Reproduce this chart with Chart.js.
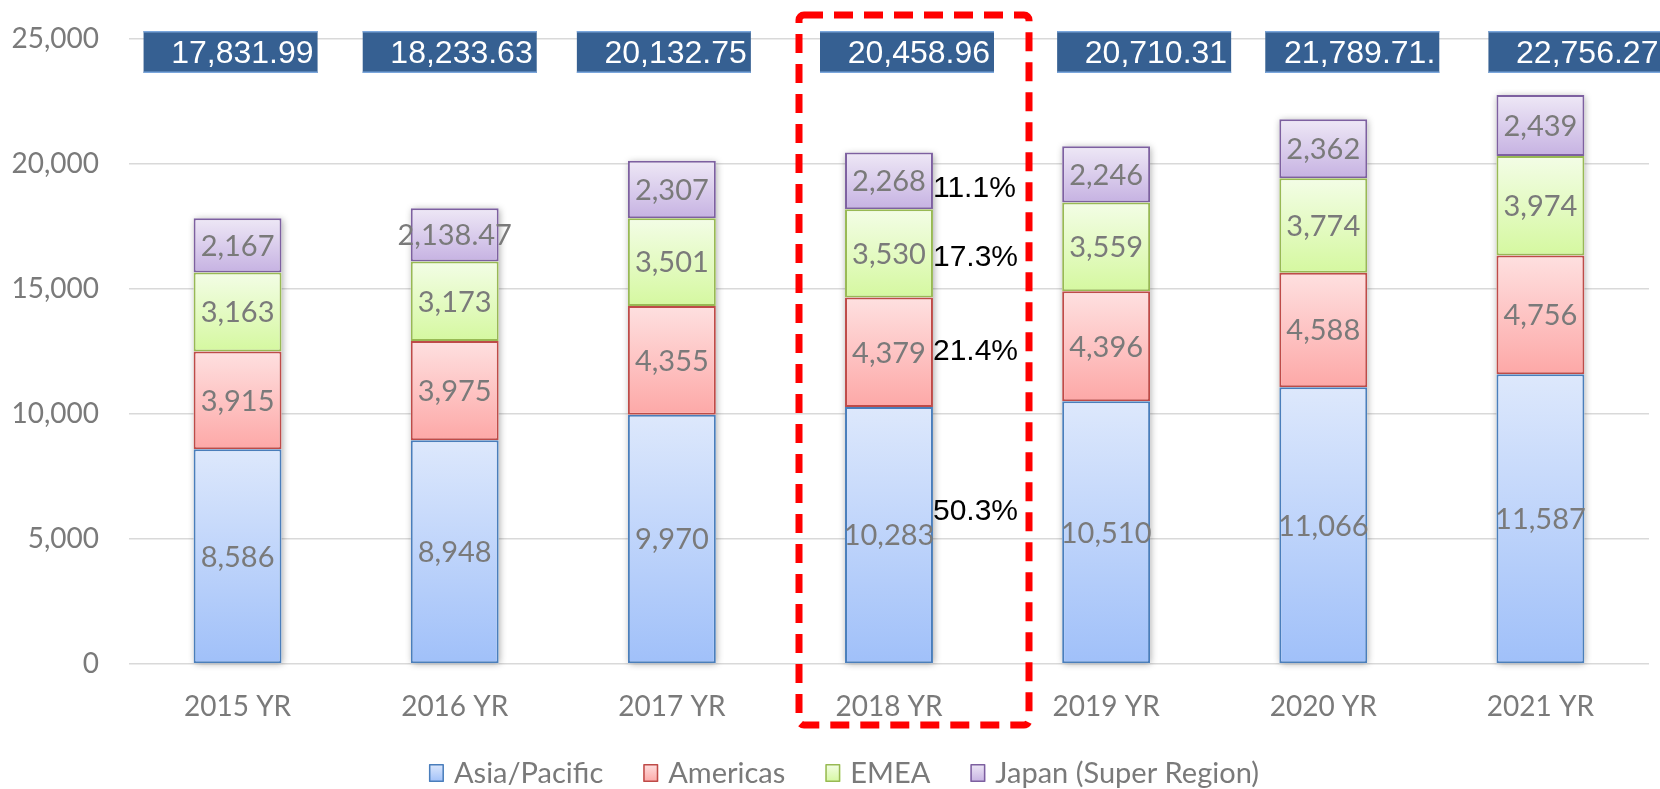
<!DOCTYPE html>
<html>
<head>
<meta charset="utf-8">
<script src="https://cdn.jsdelivr.net/npm/chart.js@4/dist/chart.umd.min.js"></script>
<style>
  html, body { margin: 0; padding: 0; background: #fff; overflow: hidden; }
  #wrap { width: 1660px; height: 789px; position: relative; }
</style>
</head>
<body>
<div id="wrap"><canvas id="chart"></canvas></div>
<script>
const years = ['2015 YR', '2016 YR', '2017 YR', '2018 YR', '2019 YR', '2020 YR', '2021 YR'];
const asiaPacific = [8586, 8948, 9970, 10283, 10510, 11066, 11587];
const americas = [3915, 3975, 4355, 4379, 4396, 4588, 4756];
const emea = [3163, 3173, 3501, 3530, 3559, 3774, 3974];
const japan = [2167, 2138.47, 2307, 2268, 2246, 2362, 2439];
const totals = ['17,831.99', '18,233.63', '20,132.75', '20,458.96', '20,710.31', '21,789.71.', '22,756.27'];
const share2018 = ['50.3%', '21.4%', '17.3%', '11.1%'];
const yTicks = [0, 5000, 10000, 15000, 20000, 25000];

// layout tweaks (pixels)
const totalNudge = [-7, -5, -8, 18, 38, 29, 35];
const shareNudge = [-23, 0, 4, 8];
const GRAY = '#7a7a7a';
const LABEL_FONT = 'Lato, "Open Sans", sans-serif';

function fill(top, bottom) {
  return function (c) {
    const chart = c.chart;
    if (c.type !== 'data' || !chart.chartArea) return bottom;
    const y = chart.scales.y;
    let base = 0;
    for (let d = 0; d < c.datasetIndex; d++) base += chart.data.datasets[d].data[c.dataIndex];
    const g = chart.ctx.createLinearGradient(0, y.getPixelForValue(base + c.raw), 0, y.getPixelForValue(base));
    g.addColorStop(0, top);
    g.addColorStop(1, bottom);
    return g;
  };
}

const series = [
  { label: 'Asia/Pacific', data: asiaPacific, top: '#dde8fc', bottom: '#a0c0f9', border: '#4a7ebb' },
  { label: 'Americas', data: americas, top: '#fee0e0', bottom: '#fda8a7', border: '#be4b48' },
  { label: 'EMEA', data: emea, top: '#f3fde6', bottom: '#d5f8a0', border: '#98b954' },
  { label: 'Japan (Super Region)', data: japan, top: '#eee8f6', bottom: '#c6b2e2', border: '#7d60a0' }
];

const fmt = v => v.toLocaleString('en-US', { maximumFractionDigits: 2 });

// soft shadow behind each stacked column
const columnShadow = {
  id: 'columnShadow',
  beforeDatasetsDraw(chart) {
    const ctx = chart.ctx;
    const first = chart.getDatasetMeta(0).data;
    const last = chart.getDatasetMeta(chart.data.datasets.length - 1).data;
    ctx.save();
    ctx.shadowColor = 'rgba(0,0,0,0.35)';
    ctx.shadowBlur = 7;
    ctx.shadowOffsetX = 1;
    ctx.shadowOffsetY = 1;
    ctx.fillStyle = '#fff';
    first.forEach((el, i) => {
      const top = last[i].y;
      ctx.fillRect(el.x - el.width / 2, top, el.width, el.base - top);
    });
    ctx.restore();
  }
};

const segmentLabels = {
  id: 'segmentLabels',
  afterDatasetsDraw(chart) {
    const ctx = chart.ctx;
    ctx.save();
    ctx.font = '29px ' + LABEL_FONT;
    ctx.fillStyle = GRAY;
    ctx.textAlign = 'center';
    ctx.textBaseline = 'middle';
    chart.data.datasets.forEach((ds, d) => {
      chart.getDatasetMeta(d).data.forEach((el, i) => {
        ctx.fillText(fmt(ds.data[i]), el.x, (el.y + el.base) / 2 + 1);
      });
    });
    ctx.restore();
  }
};

const extras = {
  id: 'extras',
  afterDraw(chart) {
    const ctx = chart.ctx;
    const x = chart.scales.x, y = chart.scales.y, area = chart.chartArea;
    ctx.save();

    // total boxes
    const boxTop = y.getPixelForValue(25000) - 8;
    const boxH = 42, boxW = 174;
    ctx.font = '32px "Liberation Sans", Arial, sans-serif';
    ctx.textAlign = 'right';
    ctx.textBaseline = 'middle';
    totals.forEach((t, i) => {
      const cx = x.getPixelForValue(i) + totalNudge[i];
      const left = cx - boxW / 2;
      ctx.fillStyle = '#366092';
      ctx.fillRect(left, boxTop, boxW, boxH);
      ctx.fillStyle = '#7aa6dc';
      ctx.fillRect(left, boxTop, boxW, 1.5);
      ctx.fillRect(left, boxTop + boxH - 1.5, boxW, 1.5);
      ctx.fillStyle = '#fff';
      ctx.fillText(t, left + boxW - 4, boxTop + boxH / 2 + 2);
    });

    // 2018 share labels
    ctx.font = '30px "Liberation Sans", Arial, sans-serif';
    ctx.textAlign = 'left';
    ctx.fillStyle = '#000';
    share2018.forEach((s, d) => {
      const el = chart.getDatasetMeta(d).data[3];
      ctx.fillText(s, el.x + el.width / 2, (el.y + el.base) / 2 + shareNudge[d]);
    });

    // red dashed highlight around 2018
    const cx = x.getPixelForValue(3);
    const l = cx - 90, r = cx + 140, t = area.top - 24, b = area.bottom + 61;
    ctx.strokeStyle = '#ff0000';
    ctx.lineWidth = 7;
    ctx.setLineDash([19, 11]);
    ctx.lineJoin = 'round';
    ctx.beginPath();
    ctx.roundRect(l, t, r - l, b - t, 5);
    ctx.stroke();
    ctx.setLineDash([]);

    // legend
    ctx.font = '29px ' + LABEL_FONT;
    ctx.textAlign = 'left';
    const boxSize = 15, gapText = 10, gapItem = 40;
    const widths = series.map(s => boxSize + gapText + ctx.measureText(s.label).width);
    const total = widths.reduce((a, w) => a + w, 0) + gapItem * (series.length - 1);
    let lx = chart.width / 2 + 14 - total / 2;
    const ly = 773;
    series.forEach((s, i) => {
      const g = ctx.createLinearGradient(0, ly - 9, 0, ly + 9);
      g.addColorStop(0, s.top);
      g.addColorStop(1, s.bottom);
      ctx.fillStyle = g;
      ctx.fillRect(lx, ly - 9, boxSize, 18);
      ctx.strokeStyle = s.border;
      ctx.lineWidth = 1.5;
      ctx.strokeRect(lx + 0.75, ly - 8.25, boxSize - 1.5, 16.5);
      ctx.fillStyle = GRAY;
      ctx.fillText(s.label, lx + boxSize + gapText, ly + 1);
      lx += widths[i] + gapItem;
    });

    ctx.restore();
  }
};

new Chart(document.getElementById('chart'), {
  type: 'bar',
  data: {
    labels: years,
    datasets: series.map(s => ({
      label: s.label,
      data: s.data,
      backgroundColor: fill(s.top, s.bottom),
      borderColor: s.border,
      borderWidth: 2,
      borderSkipped: false,
      barPercentage: 1,
      categoryPercentage: 0.405
    }))
  },
  options: {
    responsive: true,
    maintainAspectRatio: false,
    animation: false,
    layout: { padding: { top: 39, right: 11, bottom: 65, left: 0 } },
    plugins: {
      legend: { display: false },
      tooltip: { enabled: false }
    },
    scales: {
      x: {
        stacked: true,
        grid: { display: false, drawTicks: false },
        border: { display: false },
        ticks: { color: GRAY, font: { family: LABEL_FONT, size: 28 }, padding: 26 },
        afterFit: s => { s.height = 60; }
      },
      y: {
        stacked: true,
        min: 0,
        max: 25000,
        afterBuildTicks: s => { s.ticks = yTicks.map(v => ({ value: v })); },
        grid: { color: '#d9d9d9', lineWidth: 1.5, drawTicks: false },
        border: { display: false },
        ticks: {
          color: GRAY,
          font: { family: LABEL_FONT, size: 28 },
          padding: 30,
          callback: v => v.toLocaleString('en-US')
        },
        afterFit: s => { s.width = 129; s.paddingTop = 17; s.paddingBottom = 17; }
      }
    }
  },
  plugins: [columnShadow, segmentLabels, extras]
});
</script>
</body>
</html>
